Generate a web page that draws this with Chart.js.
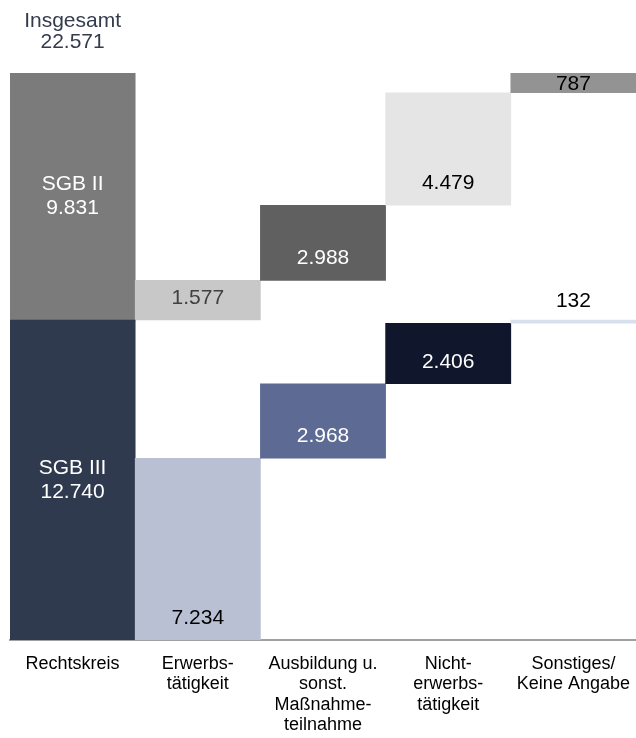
<!DOCTYPE html>
<html><head><meta charset="utf-8">
<script src="https://cdn.jsdelivr.net/npm/chart.js@4/dist/chart.umd.min.js"></script>
<style>html,body{margin:0;padding:0;background:#fff}</style>
</head><body>
<canvas id="c" width="636" height="738"></canvas>
<script>
// ---- data ----
const categories = [["Rechtskreis"],["Erwerbs-","tätigkeit"],["Ausbildung u.","sonst.","Maßnahme-","teilnahme"],["Nicht-","erwerbs-","tätigkeit"],["Sonstiges/","Keine Angabe"]];
const seriesNames = ["SGB III","SGB II"];
const sgb3Values = [12740, 7234, 2968, 2406, 132];
const sgb2Values = [9831, 1577, 2988, 4479, 787];
const totalLabel = "Insgesamt";
const totalValue = 22571;

// ---- styles ----
const sgb3Colors = ["#2f3a4f","#b9c0d3","#5c6a94","#10162b","#d8e0ee"];
const sgb2Colors = ["#7b7b7b","#c8c8c8","#606060","#e5e5e5","#939393"];
const sgb3Text = ["#ffffff","#000000","#ffffff","#ffffff","#000000"];
const sgb2Text = ["#ffffff","#404040","#ffffff","#000000","#000000"];
const FONT = "'Liberation Sans', Arial, sans-serif";

function fmt(v){ return String(v).replace(/\B(?=(\d{3})+(?!\d))/g, "."); }

// waterfall ranges: first column = split of total, then SGB III breakdown from 0 up,
// SGB II breakdown continuing from SGB III total
function ranges(first, vals, start){
  const out = [[start, start + vals[0]]];
  let acc = first;
  for (let i = 1; i < vals.length; i++){ out.push([acc, acc + vals[i]]); acc += vals[i]; }
  return out;
}
const sgb3Ranges = ranges(0, sgb3Values, 0);
const sgb3Sum = sgb3Values[0];
const sgb2Ranges = ranges(sgb3Sum, sgb2Values, sgb3Sum);

const labelPlugin = {
  id: 'labels',
  afterDatasetsDraw(chart){
    const ctx = chart.ctx;
    ctx.save();
    ctx.font = "21px " + FONT;
    ctx.textAlign = 'center';
    ctx.textBaseline = 'middle';
    const lh = 24;
    const sets = [[sgb3Values, sgb3Text], [sgb2Values, sgb2Text]];
    sets.forEach((s, di) => {
      const meta = chart.getDatasetMeta(di);
      meta.data.forEach((el, j) => {
        const top = Math.min(el.y, el.base), bottom = Math.max(el.y, el.base);
        const h = bottom - top;
        ctx.fillStyle = s[1][j];
        if (j === 0){
          const mid = (top + bottom) / 2;
          ctx.fillText(seriesNames[di], el.x, mid - lh/2);
          ctx.fillText(fmt(s[0][j]), el.x, mid + lh/2);
        } else {
          let y = bottom - 22;
          if (h > 8 && h < 30) y = (top + bottom) / 2 + 1;
          ctx.fillText(fmt(s[0][j]), el.x, y);
        }
      });
    });
    // total label above first column
    const el = chart.getDatasetMeta(1).data[0];
    const top = Math.min(el.y, el.base);
    ctx.fillStyle = "#333b4c";
    ctx.fillText(totalLabel, el.x, top - 52);
    ctx.fillText(fmt(totalValue), el.x, top - 31);
    ctx.restore();
  }
};

new Chart(document.getElementById('c'), {
  type: 'bar',
  data: {
    labels: categories,
    datasets: [
      { label: seriesNames[0], data: sgb3Ranges, backgroundColor: sgb3Colors, grouped: false, barPercentage: 1, categoryPercentage: 1, borderWidth: 0 },
      { label: seriesNames[1], data: sgb2Ranges, backgroundColor: sgb2Colors, grouped: false, barPercentage: 1, categoryPercentage: 1, borderWidth: 0 }
    ]
  },
  options: {
    responsive: false,
    animation: false,
    devicePixelRatio: 1,
    layout: { padding: { top: 73, left: 10, right: 0, bottom: 0 } },
    plugins: { legend: { display: false }, tooltip: { enabled: false } },
    scales: {
      y: { display: false, min: 0, max: totalValue },
      x: {
        afterFit(scale){ scale.height = 98; scale.paddingRight = 0; scale.paddingLeft = 0; },
        grid: { display: false, drawTicks: true, tickLength: 14 },
        border: { display: true, color: '#a0a0a0', width: 2 },
        ticks: { color: '#000', font: { family: FONT, size: 18, lineHeight: 1.13 }, padding: 0, maxRotation: 0, autoSkip: false }
      }
    }
  },
  plugins: [labelPlugin]
});
</script>
</body></html>
